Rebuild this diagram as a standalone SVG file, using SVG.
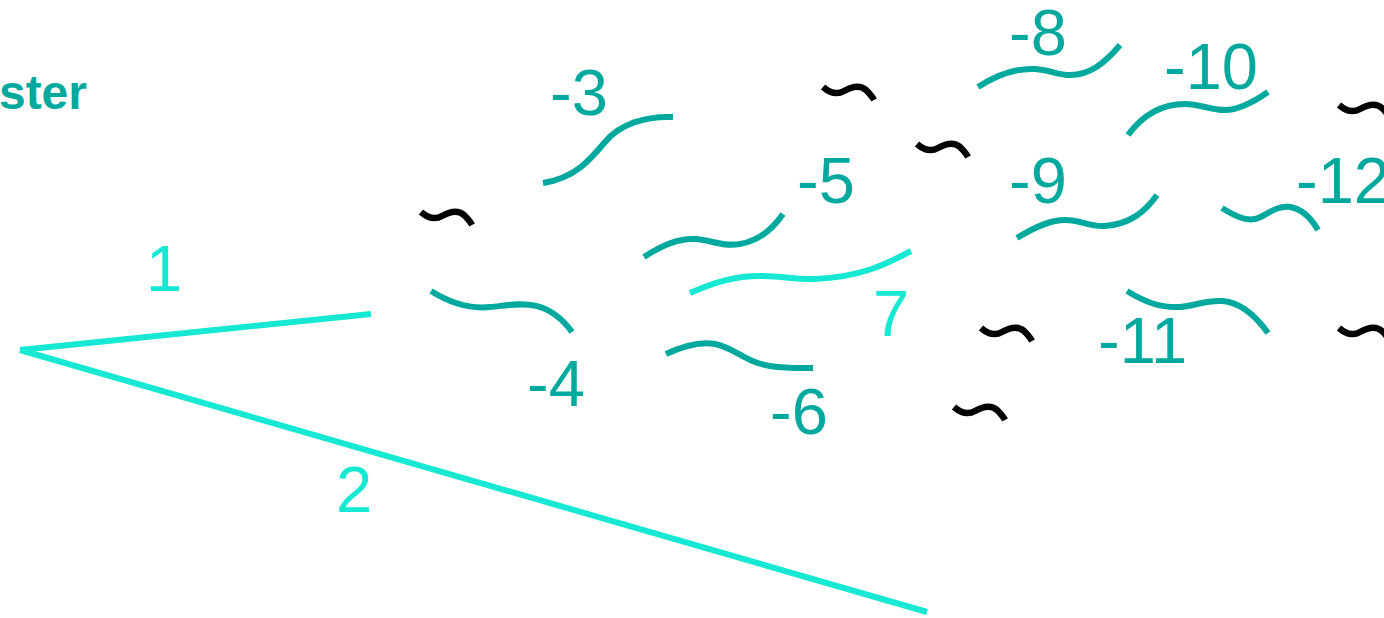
<svg xmlns="http://www.w3.org/2000/svg" width="1384" height="618" viewBox="0 0 1384 618">
<style>
.lbl{font-family:"Liberation Sans",Arial,sans-serif;font-size:65px;fill:#00a99d}
.lbl.b{fill:#15e8d3}
.title{font-family:"Liberation Sans",Arial,sans-serif;font-size:48px;font-weight:bold;fill:#00a99d}
.t{fill:none;stroke:#00a99d;stroke-width:6}
.c{fill:none;stroke:#15e8d3;stroke-width:6}
.k{fill:none;stroke:#000;stroke-width:6.5}
</style>
<defs>
<path id="tilde" d="M0,0 C7,6 14,8 21,4 C28,0 36,-3 43,3 C46,6 49,9 51,13"/>
</defs>
<rect width="1384" height="618" fill="#fff"/>
<text class="title" x="87" y="109" text-anchor="end">ster</text>
<g id="connectors">
<path class="c" d="M20,350 L371,314"/>
<path class="c" d="M20,350 L927,612"/>
<path class="c" d="M690,293 C715,282 735,276 760,276 C785,276 795,280 815,279 C860,277 885,265 911,251"/>
</g>
<g id="edge-labels">
<text class="lbl b" x="146" y="291">1</text>
<text class="lbl b" x="336" y="512">2</text>
<text class="lbl b" x="873" y="336">7</text>
</g>
<g id="n3"><path class="t" d="M543,183 C575,178 590,160 605,142 C620,124 645,116 673,117"/><text class="lbl" x="550" y="115">-3</text></g>
<g id="n4"><path class="t" d="M431,291 C450,303 470,309 490,307 C515,305 545,295 572,332"/><text class="lbl" x="527" y="406">-4</text></g>
<g id="n5"><path class="t" d="M644,257 C665,243 680,238 695,239 C712,240 722,247 740,244 C758,241 772,230 783,214"/><text class="lbl" x="797" y="203">-5</text></g>
<g id="n6"><path class="t" d="M666,354 C685,345 700,341 715,344 C735,348 745,362 770,366 C790,369 805,368 813,368"/><text class="lbl" x="770" y="434">-6</text></g>
<g id="n8"><path class="t" d="M978,87 C995,76 1015,68 1035,69 C1050,70 1058,75 1070,75 C1090,75 1105,63 1120,45"/><text class="lbl" x="1009" y="55">-8</text></g>
<g id="n9"><path class="t" d="M1017,238 C1035,227 1050,220 1065,220 C1082,220 1088,227 1105,226 C1130,224 1145,212 1157,195"/><text class="lbl" x="1009" y="203">-9</text></g>
<g id="n10"><path class="t" d="M1128,135 C1145,112 1165,104 1185,104 C1200,104 1210,110 1225,110 C1240,110 1255,101 1268,92"/><text class="lbl" x="1164" y="89">-10</text></g>
<g id="n11"><path class="t" d="M1127,291 C1145,302 1160,308 1180,307 C1195,306 1205,300 1222,301 C1240,302 1255,315 1268,333"/><text class="lbl" x="1098" y="363">-11</text></g>
<g id="n12"><path class="t" d="M1222,208 C1235,216 1245,221 1255,219 C1265,217 1275,205 1290,207 C1302,209 1311,218 1318,230"/><text class="lbl" x="1296" y="203">-12</text></g>
<g id="tildes">
<use href="#tilde" class="k" x="421" y="212"/>
<use href="#tilde" class="k" x="823" y="87"/>
<use href="#tilde" class="k" x="917" y="144"/>
<use href="#tilde" class="k" x="1339" y="105"/>
<use href="#tilde" class="k" x="981" y="328"/>
<use href="#tilde" class="k" x="954" y="407"/>
<use href="#tilde" class="k" x="1339" y="328"/>
</g>
</svg>
